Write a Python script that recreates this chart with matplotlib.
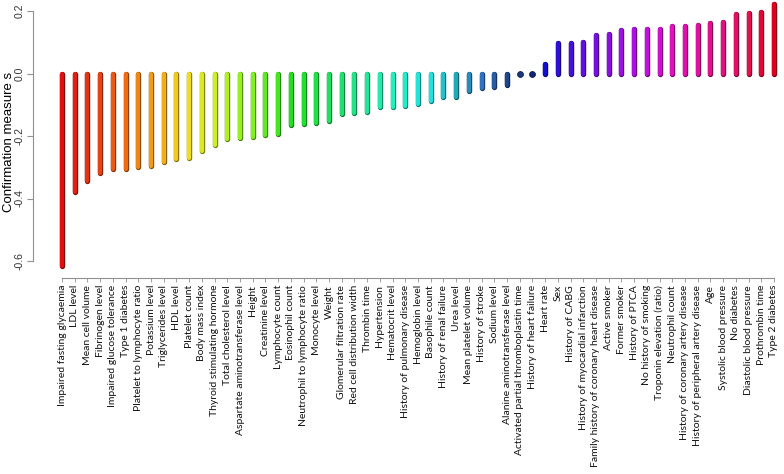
import numpy as np
import matplotlib
matplotlib.use("Agg")
import matplotlib.pyplot as plt
import matplotlib.patheffects as pe
from matplotlib.colors import LinearSegmentedColormap, to_rgb

# Features, ordered as in the figure
features = [
    "Impaired fasting glycaemia", "LDL level", "Mean cell volume", "Fibrinogen level",
    "Impaired glucose tolerance", "Type 1 diabetes", "Platelet to lymphocyte ratio",
    "Potassium level", "Triglycerides level", "HDL level", "Platelet count",
    "Body mass index", "Thyroid stimulating hormone", "Total cholesterol level",
    "Aspartate aminotransferase level", "Height", "Creatinine level", "Lymphocyte count",
    "Eosinophil count", "Neutrophil to lymphocyte ratio", "Monocyte level", "Weight",
    "Glomerular filtration rate", "Red cell distribution width", "Thrombin time",
    "Hypertension", "Hematocrit level", "History of pulmonary disease", "Hemoglobin level",
    "Basophile count", "History of renal failure", "Urea level", "Mean platelet volume",
    "History of stroke", "Sodium level", "Alanine aminotransferase level",
    "Activated partial thromboplastin time", "History of heart failure", "Heart rate",
    "Sex", "History of CABG", "History of myocardial infarction",
    "Family history of coronary heart disease", "Active smoker", "Former smoker",
    "History of PTCA", "No history of smoking", "Troponin elevation (ratio)",
    "Neutrophil count", "History of coronary artery disease",
    "History of peripheral artery disease", "Age", "Systolic blood pressure",
    "No diabetes", "Diastolic blood pressure", "Prothrombin time", "Type 2 diabetes",
]

# confirmation measure s
s_values = [
    -0.617, -0.378, -0.345, -0.317, -0.305, -0.305, -0.298, -0.296, -0.284, -0.272,
    -0.270, -0.248, -0.228, -0.208, -0.205, -0.203, -0.198, -0.192, -0.166, -0.163,
    -0.157, -0.153, -0.128, -0.125, -0.123, -0.106, -0.106, -0.104, -0.097, -0.087,
    -0.074, -0.074, -0.057, -0.046, -0.044, -0.038, -0.002, -0.002, 0.031, 0.096,
    0.099, 0.102, 0.124, 0.126, 0.140, 0.142, 0.142, 0.143, 0.153, 0.153,
    0.155, 0.163, 0.165, 0.191, 0.194, 0.197, 0.221,
]

# colour ramp anchors (bar index, colour)
ramp = [
    (0, "#e01010"), (3, "#e84414"), (5, "#f07010"), (8, "#f0b020"), (10, "#f0e020"),
    (12, "#c8f020"), (15, "#80f020"), (18, "#20e020"), (22, "#20e070"), (26, "#20f0c0"),
    (29, "#20e0e0"), (31, "#20a8b8"), (33, "#3070c0"), (35, "#204888"), (37, "#102870"),
    (38, "#1010d0"), (41, "#6010e0"), (46, "#c010e0"), (48, "#e010c0"), (52, "#e01080"),
    (54, "#e01050"), (56, "#e00020"),
]

n = len(features)
cmap = LinearSegmentedColormap.from_list(
    "ramp", [(i / (n - 1), c) for i, c in ramp])
colors = [cmap(i / (n - 1)) for i in range(n)]

fig = plt.figure(figsize=(7.84, 4.74), dpi=100)
ax = fig.add_axes([33 / 784, (474 - 278) / 474, (784 - 33) / 784, 278 / 474])

x = np.arange(1, n + 1)
for xi, v, c in zip(x, s_values, colors):
    edge = tuple(np.array(to_rgb(c)) * 0.55)
    if abs(v) < 0.01:
        # too short for a line: draw as a dot
        ax.plot(xi, v, "o", ms=4.2, color=c, mec=edge, mew=0.6)
        continue
    ax.plot([xi, xi], [0, v], color=c, lw=3.0, solid_capstyle="round",
            path_effects=[pe.Stroke(linewidth=3.9, foreground=edge), pe.Normal()])

ax.set_xlim(1 - 29 / 12.714, n + 10 / 12.714)
ax.set_ylim(-0.6 - 17 / 312.5, 0.2 + 11 / 312.5)

for side in ["top", "right"]:
    ax.spines[side].set_visible(False)
ax.spines["left"].set_bounds(-0.6, 0.2)
ax.spines["bottom"].set_bounds(1, n)
for side in ["left", "bottom"]:
    ax.spines[side].set_color("#909090")
    ax.spines[side].set_linewidth(0.8)

ax.set_yticks([-0.6, -0.4, -0.2, 0.0, 0.2])
ax.set_yticklabels(["-0.6", "-0.4", "-0.2", "0.0", "0.2"], rotation=90, va="center",
                   fontsize=7.5, family="Liberation Sans", color="#333333")
ax.tick_params(axis="y", length=4, width=0.8, color="#909090", pad=2)

ax.set_xticks(x)
ax.set_xticklabels(features, rotation=90, fontsize=7.5, family="Lato", color="#111111")
ax.tick_params(axis="x", length=3, width=0.6, color="#909090", pad=2)

ax.set_ylabel("Confirmation measure s", fontsize=9.5, family="Liberation Sans",
              va="center", ha="center")
ax.yaxis.set_label_coords(-24 / 751, 0.5 + (136 - 139) / 278)

fig.savefig("out.png", dpi=100)
